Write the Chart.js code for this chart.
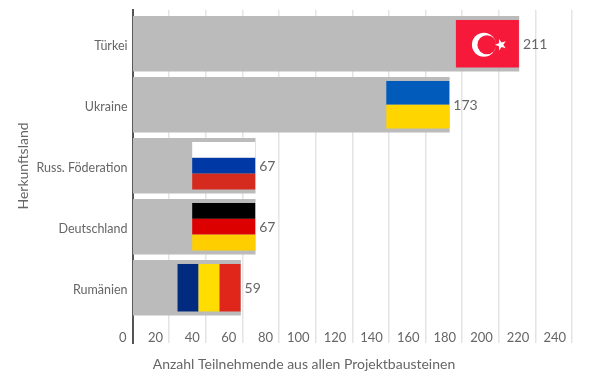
<!DOCTYPE html>
<html lang="de">
<head>
    <meta charset="UTF-8">
    <title>Herkunftsland</title>
    <script src="https://cdn.jsdelivr.net/npm/chart.js"></script>
    <style>
        html, body { margin: 0; padding: 0; background: #fff; }
        canvas { display: block; }
    </style>
</head>
<body>
    <canvas id="chart" width="600" height="381"></canvas>
    <script>
        const categories = ['Türkei', 'Ukraine', 'Russ. Föderation', 'Deutschland', 'Rumänien'];
        const values = [211, 173, 67, 67, 59];
        const xTicks = [0, 20, 40, 60, 80, 100, 120, 140, 160, 180, 200, 220, 240];

        // Flag look, same order as categories
        const flagColors = [
            ['#f6193a'],
            ['#005bbb', '#ffd500'],
            ['#ffffff', '#0039a6', '#d52b1e'],
            ['#000000', '#dd0000', '#ffce00'],
            ['#002b7f', '#ffdd00', '#e0251a']
        ];
        const flagVertical = [false, false, false, false, true];

        const textColor = '#666666';
        const fontName = 'Lato, "Open Sans", sans-serif';

        function drawStar(ctx, cx, cy, r) {
            ctx.beginPath();
            for (let i = 0; i < 10; i++) {
                const rad = i % 2 ? r * 0.4 : r;
                const a = i * Math.PI / 5 - Math.PI;
                ctx.lineTo(cx + rad * Math.cos(a), cy + rad * Math.sin(a));
            }
            ctx.closePath();
            ctx.fill();
        }

        // Flags sit inside the end of each bar, value labels right behind it
        const barExtras = {
            id: 'barExtras',
            afterDatasetsDraw(chart) {
                const ctx = chart.ctx;
                const bars = chart.getDatasetMeta(0).data;
                ctx.save();
                bars.forEach((bar, i) => {
                    const w = 63, h = 47.5;
                    const left = bar.x - w;
                    const top = bar.y - h / 2;
                    const colors = flagColors[i];
                    colors.forEach((c, k) => {
                        ctx.fillStyle = c;
                        if (flagVertical[i]) {
                            ctx.fillRect(left + k * w / colors.length, top, w / colors.length, h);
                        } else {
                            ctx.fillRect(left, top + k * h / colors.length, w, h / colors.length);
                        }
                    });
                    if (i === 0) {
                        ctx.fillStyle = '#ffffff';
                        ctx.beginPath();
                        ctx.arc(left + 28, bar.y + 1, 12, 0, Math.PI * 2);
                        ctx.fill();
                        ctx.fillStyle = colors[0];
                        ctx.beginPath();
                        ctx.arc(left + 31, bar.y + 1, 9.5, 0, Math.PI * 2);
                        ctx.fill();
                        ctx.fillStyle = '#ffffff';
                        drawStar(ctx, left + 45, bar.y + 1, 6);
                    }
                    ctx.fillStyle = textColor;
                    ctx.font = '14px ' + fontName;
                    ctx.textAlign = 'left';
                    ctx.textBaseline = 'middle';
                    ctx.fillText(values[i], bar.x + 4, bar.y + 0.5);
                });
                ctx.restore();
            }
        };

        // Axis titles are centred on the page, not on the plot area
        const axisTitles = {
            id: 'axisTitles',
            afterDraw(chart) {
                const ctx = chart.ctx;
                ctx.save();
                ctx.fillStyle = textColor;
                ctx.font = '14px ' + fontName;
                ctx.textAlign = 'center';
                ctx.textBaseline = 'middle';
                ctx.fillText('Anzahl Teilnehmende aus allen Projektbausteinen', 304, 364);
                ctx.translate(23, 166);
                ctx.rotate(-Math.PI / 2);
                ctx.fillText('Herkunftsland', 0, 0);
                ctx.restore();
            }
        };

        new Chart(document.getElementById('chart').getContext('2d'), {
            type: 'bar',
            data: {
                datasets: [{
                    data: values.map((v, i) => ({ x: v, y: i })),
                    backgroundColor: '#bbbbbb',
                    borderWidth: 0,
                    barThickness: 55
                }]
            },
            options: {
                indexAxis: 'y',
                responsive: false,
                animation: false,
                layout: { padding: { top: 10, right: 28, bottom: 0, left: 0 } },
                plugins: { legend: { display: false }, tooltip: { enabled: false } },
                scales: {
                    x: {
                        type: 'linear',
                        position: 'bottom',
                        min: 0,
                        max: 240,
                        afterBuildTicks: s => { s.ticks = xTicks.map(v => ({ value: v })); },
                        afterFit: s => { s.height = 38; },
                        border: { display: false },
                        grid: { color: '#e4e4e4', lineWidth: 1.5, drawTicks: false },
                        ticks: {
                            mirror: true,
                            align: 'end',
                            labelOffset: -6,
                            padding: -2.5,
                            maxRotation: 0,
                            autoSkip: false,
                            color: textColor,
                            font: { family: fontName, size: 13 }
                        }
                    },
                    y: {
                        type: 'linear',
                        offset: false,
                        reverse: true,
                        min: -0.553,
                        max: 4.906,
                        afterBuildTicks: s => { s.ticks = categories.map((c, i) => ({ value: i })); },
                        afterFit: s => { s.width = 132.5; s.paddingTop = 0; s.paddingBottom = 0; },
                        border: { color: '#555555', width: 2 },
                        grid: { display: false, drawTicks: false, offset: false },
                        ticks: {
                            callback: v => categories[v],
                            autoSkip: false,
                            padding: 5,
                            labelOffset: 2,
                            color: textColor,
                            font: { family: fontName, size: 12.5 }
                        }
                    }
                }
            },
            plugins: [barExtras, axisTitles]
        });
    </script>
</body>
</html>
